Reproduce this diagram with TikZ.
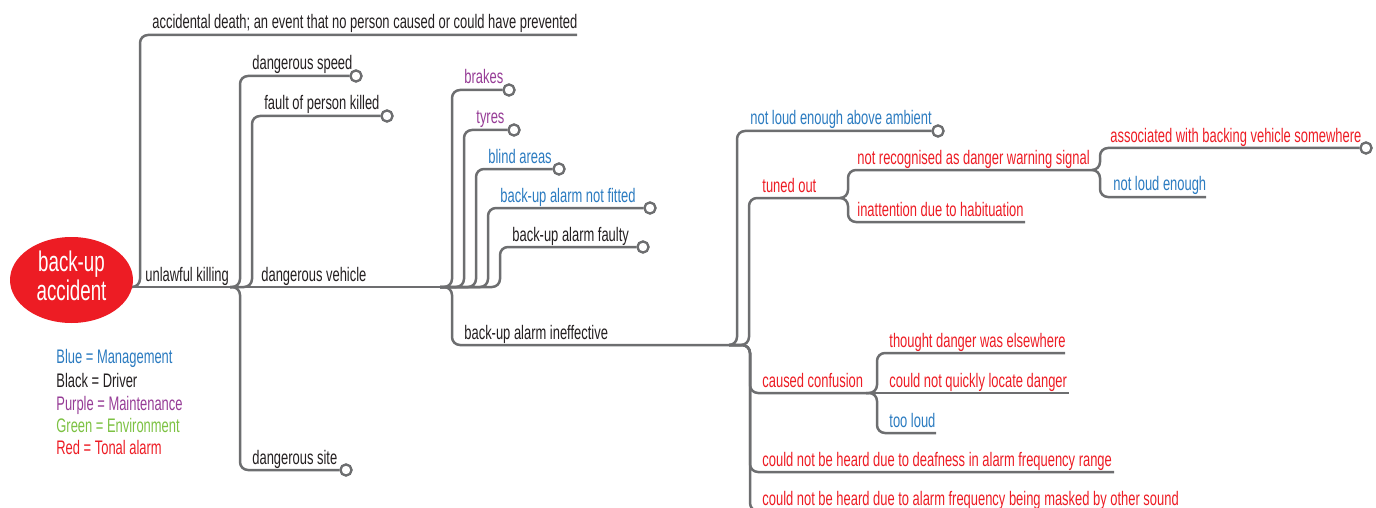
\documentclass[tikz,border=0pt]{standalone}
\usepackage{fontspec}
\setmainfont{Liberation Sans}[FakeStretch=0.66]
\definecolor{lineg}{HTML}{6D6E70}
\definecolor{mblue}{HTML}{2B7BC0}
\definecolor{mpurple}{HTML}{963C96}
\definecolor{mgreen}{HTML}{7CC142}
\definecolor{mred}{HTML}{ED1C24}
\definecolor{mblack}{HTML}{231F20}
\tikzset{
  br/.style={draw=lineg, line width=1.25pt, rounded corners=4pt},
  lbl/.style={anchor=base west, inner sep=0pt, font=\fontsize{9.8}{10}\selectfont},
  endc/.style={circle, draw=lineg, line width=1.1pt, fill=white, minimum size=5.5pt, inner sep=0pt},
  rootnode/.style={ellipse, fill=mred, minimum width=61.5pt, minimum height=43pt, inner sep=0pt},
  roottext/.style={text=white, align=center, inner sep=0pt, font=\fontsize{14.2}{11.5}\selectfont},
}
\usetikzlibrary{shapes.geometric}
\begin{document}
\begin{tikzpicture}[x=0.5pt,y=-0.5pt]
\useasboundingbox (0,0) rectangle (1376,508);
\clip (0,0) rectangle (1376,508);

% junctions
\coordinate (r0) at (110,287);
\coordinate (J0) at (130,287);
\coordinate (J1) at (230,287);
\coordinate (J2) at (440,287);
\coordinate (J3) at (729,345);
\coordinate (J4) at (840,198);
\coordinate (J5) at (1092,170);
\coordinate (J6) at (866,393);

% bend points and free ends
\coordinate (c-acc) at (140,35);   \coordinate (e-acc) at (577,35);
\coordinate (c-speed) at (240,76);
\coordinate (c-fault) at (252,116);
\coordinate (c-site) at (240,470);
\coordinate (c-brakes) at (452,90);
\coordinate (c-tyres) at (464,130);
\coordinate (c-blind) at (476,169);
\coordinate (c-fitted) at (488,208);
\coordinate (c-faulty) at (500,247);
\coordinate (c-ineff) at (452,345);
\coordinate (c-amb) at (737,131);
\coordinate (c-tuned) at (749,198);
\coordinate (c-recog) at (848,170);
\coordinate (c-inatt) at (848,222);  \coordinate (e-inatt) at (1025,222);
\coordinate (c-assoc) at (1100,148);
\coordinate (c-nle) at (1100,197);   \coordinate (e-nle) at (1206,197);
\coordinate (c-conf) at (750,393);
\coordinate (c-thought) at (877,353); \coordinate (e-thought) at (1065,353);
\coordinate (e-quick) at (1069,393);
\coordinate (c-tooloud) at (877,433); \coordinate (e-tooloud) at (936,433);
\coordinate (c-deaf) at (750,472);   \coordinate (e-deaf) at (1114,472);
\coordinate (c-mask) at (750,511);   \coordinate (e-mask) at (1190,511);

% end circles
\node[endc] (o-speed) at (356,76) {};
\node[endc] (o-fault) at (387,116) {};
\node[endc] (o-site) at (346,470) {};
\node[endc] (o-brakes) at (509,90) {};
\node[endc] (o-tyres) at (514,130) {};
\node[endc] (o-blind) at (559,169) {};
\node[endc] (o-fitted) at (650,208) {};
\node[endc] (o-faulty) at (643,247) {};
\node[endc] (o-amb) at (938,131) {};
\node[endc] (o-assoc) at (1366,148) {};

% connectors
\draw[br] (r0) -- (J1);
\draw[br] (J0) -| (c-acc) -- (e-acc);
\draw[br] (J1) -| (c-speed) -- (o-speed);
\draw[br] (J1) -| (c-fault) -- (o-fault);
\draw[br] (J1) -| (c-site) -- (o-site);
\draw[br] (J1) -- (J2);
\draw[br] (J2) -| (c-brakes) -- (o-brakes);
\draw[br] (J2) -| (c-tyres) -- (o-tyres);
\draw[br] (J2) -| (c-blind) -- (o-blind);
\draw[br] (J2) -| (c-fitted) -- (o-fitted);
\draw[br] (J2) -| (c-faulty) -- (o-faulty);
\draw[br] (J2) -| (c-ineff) -- (J3);
\draw[br] (J3) -| (c-amb) -- (o-amb);
\draw[br] (J3) -| (c-tuned) -- (J4);
\draw[br] (J4) -| (c-recog) -- (J5);
\draw[br] (J4) -| (c-inatt) -- (e-inatt);
\draw[br] (J5) -| (c-assoc) -- (o-assoc);
\draw[br] (J5) -| (c-nle) -- (e-nle);
\draw[br] (J3) -| (c-conf) -- (J6);
\draw[br] (J6) -| (c-thought) -- (e-thought);
\draw[br] (J6) -- (e-quick);
\draw[br] (J6) -| (c-tooloud) -- (e-tooloud);
\draw[br] (J3) -| (c-deaf) -- (e-deaf);
\draw[br] (J3) -| (c-mask) -- (e-mask);

% redraw circles on top
\foreach \n in {o-speed,o-fault,o-site,o-brakes,o-tyres,o-blind,o-fitted,o-faulty,o-amb,o-assoc}
  \draw[lineg, line width=1.1pt, fill=white] (\n.center) circle (2.75pt);

% root
\node[rootnode] (root) at (71.5,280) {};
\node[roottext] (roottxt) at (71.5,276) {back-up\\accident};

% labels
\node[lbl, text=mblack] (t-acc) at (152,29) {accidental death; an event that no person caused or could have prevented};
\node[lbl, text=mblack] (t-unl) at (145,281) {unlawful killing};
\node[lbl, text=mblack] (t-speed) at (252,70) {dangerous speed};
\node[lbl, text=mblack] (t-fault) at (264,110) {fault of person killed};
\node[lbl, text=mblack] (t-veh) at (261,281) {dangerous vehicle};
\node[lbl, text=mblack] (t-site) at (252,464) {dangerous site};
\node[lbl, text=mpurple] (t-brakes) at (464,84) {brakes};
\node[lbl, text=mpurple] (t-tyres) at (476,124) {tyres};
\node[lbl, text=mblue] (t-blind) at (488,163) {blind areas};
\node[lbl, text=mblue] (t-fitted) at (500,202) {back-up alarm not fitted};
\node[lbl, text=mblack] (t-faulty) at (512,241) {back-up alarm faulty};
\node[lbl, text=mblack] (t-ineff) at (464,339) {back-up alarm ineffective};
\node[lbl, text=mblue] (t-amb) at (750,125) {not loud enough above ambient};
\node[lbl, text=mred] (t-tuned) at (762,192) {tuned out};
\node[lbl, text=mred] (t-recog) at (857,164) {not recognised as danger warning signal};
\node[lbl, text=mred] (t-inatt) at (857,216) {inattention due to habituation};
\node[lbl, text=mred] (t-assoc) at (1110,142) {associated with backing vehicle somewhere};
\node[lbl, text=mblue] (t-nle) at (1113,191) {not loud enough};
\node[lbl, text=mred] (t-conf) at (762,387) {caused confusion};
\node[lbl, text=mred] (t-thought) at (889,347) {thought danger was elsewhere};
\node[lbl, text=mred] (t-quick) at (889,387) {could not quickly locate danger};
\node[lbl, text=mblue] (t-tooloud) at (889,427) {too loud};
\node[lbl, text=mred] (t-deaf) at (762,466) {could not be heard due to deafness in alarm frequency range};
\node[lbl, text=mred] (t-mask) at (762,505) {could not be heard due to alarm frequency being masked by other sound};

% legend
\node[lbl, text=mblue] (lg1) at (56,363) {Blue = Management};
\node[lbl, text=mblack] (lg2) at (56,387) {Black = Driver};
\node[lbl, text=mpurple] (lg3) at (56,410) {Purple = Maintenance};
\node[lbl, text=mgreen] (lg4) at (56,432) {Green = Environment};
\node[lbl, text=mred] (lg5) at (56,454) {Red = Tonal alarm};
\end{tikzpicture}
\end{document}
